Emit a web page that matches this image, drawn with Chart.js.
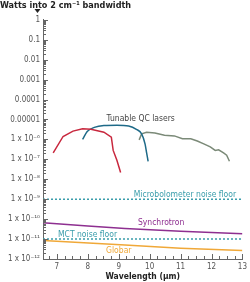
<!DOCTYPE html>
<html><head><meta charset="utf-8">
<script src="https://cdn.jsdelivr.net/npm/chart.js@4"></script>
<style>html,body{margin:0;padding:0;background:#fff;}#wrap{width:250px;height:282px;}</style>
</head><body><div id="wrap"><canvas id="c" width="250" height="282"></canvas></div>
<script>
// ---- data ----
const qclRedX = [6.88, 7.20, 7.52, 7.83, 8.10, 8.52, 8.76, 8.82, 8.94, 9.06];
const qclRedY = [2.1e-7, 1.4e-6, 2.6e-6, 3.4e-6, 3.2e-6, 2.3e-6, 1.3e-6, 2.8e-7, 8.9e-8, 2.2e-8];
const qclBlueX = [7.83, 7.98, 8.21, 8.52, 8.94, 9.32, 9.57, 9.74, 9.85, 9.90, 9.95];
const qclBlueY = [1e-6, 2.5e-6, 4e-6, 5e-6, 5.2e-6, 4.7e-6, 3.2e-6, 1.9e-6, 6e-7, 2.2e-7, 8e-8];
const qclGrayX = [9.66, 9.74, 9.90, 10.17, 10.48, 10.80, 11.06, 11.33, 11.54, 11.75, 11.96, 12.12, 12.23, 12.39, 12.49, 12.58];
const qclGrayY = [9.5e-7, 1.9e-6, 2.3e-6, 2.1e-6, 1.6e-6, 1.5e-6, 1.07e-6, 1.07e-6, 8.3e-7, 6e-7, 4.2e-7, 2.8e-7, 3e-7, 2.1e-7, 1.6e-7, 8e-8];
const synchrotronX = [6.55, 8, 9.2, 11, 13];
const synchrotronY = [6.6e-11, 4.5e-11, 3.4e-11, 2.5e-11, 1.86e-11];
const globarX = [6.55, 9.2, 11, 13];
const globarY = [8.5e-12, 5e-12, 3.5e-12, 2.7e-12];
const floorX = [6.55, 13];
const microbolometerY = [1e-9, 1e-9];
const mctY = [1e-11, 1e-11];
const xTicks = [7, 8, 9, 10, 11, 12, 13];
const yTickValues = [1, 0.1, 0.01, 0.001, 0.0001, 0.00001, 1e-6, 1e-7, 1e-8, 1e-9, 1e-10, 1e-11, 1e-12];
const yTickLabels = ['1', '0.1', '0.01', '0.001', '0.0001', '0.00001', '1 x 10\u207B\u2076', '1 x 10\u207B\u2077', '1 x 10\u207B\u2078', '1 x 10\u207B\u2079', '1 x 10\u207B\u00B9\u2070', '1 x 10\u207B\u00B9\u00B9', '1 x 10\u207B\u00B9\u00B2'];
const seriesLabels = [
  {text: 'Tunable QC lasers', x: 9.71, y: 1.1e-5, color: '#444'},
  {text: 'Microbolometer noise floor', x: 11.14, y: 1.7e-9, color: '#3a9dab'},
  {text: 'Synchrotron', x: 10.37, y: 6.5e-11, color: '#8e2f90'},
  {text: 'MCT noise floor', x: 7.99, y: 1.6e-11, color: '#3a9dab'},
  {text: 'Globar', x: 9.0, y: 2.5e-12, color: '#f0a838'}
];

const FONT = "'DejaVu Sans Condensed', 'DejaVu Sans', sans-serif";
const zip = (xs, ys) => xs.map((x, i) => ({x, y: ys[i]}));
const line = (xs, ys, color, extra) => Object.assign({
  data: zip(xs, ys), borderColor: color, borderWidth: 1.5, pointRadius: 0, fill: false, tension: 0
}, extra || {});

const innerTicks = {
  id: 'innerTicks',
  afterDraw(chart) {
    const ctx = chart.ctx, xs = chart.scales.x, ys = chart.scales.y, a = chart.chartArea;
    ctx.save();
    ctx.strokeStyle = '#666'; ctx.lineWidth = 1;
    ctx.beginPath();
    for (let d = -12; d <= 0; d++) {
      for (let m = 1; m <= 9; m++) {
        const v = m * Math.pow(10, d);
        if (v > 1.0000001) continue;
        const py = Math.round(ys.getPixelForValue(v)) + 0.5;
        const len = m === 1 ? 5 : 3;
        ctx.moveTo(a.left, py); ctx.lineTo(a.left + len, py);
      }
    }
    for (let v = 6.75; v <= 13.001; v += 0.25) {
      const px = Math.round(xs.getPixelForValue(v)) + 0.5;
      const isMajor = Math.abs(v - Math.round(v)) < 1e-6;
      const len = isMajor ? 5 : 3;
      ctx.moveTo(px, a.bottom); ctx.lineTo(px, a.bottom - len);
    }
    ctx.stroke();
    // arrow
    ctx.fillStyle = '#222';
    ctx.beginPath();
    ctx.moveTo(34.5, 9); ctx.lineTo(40.5, 9); ctx.lineTo(37.5, 13); ctx.closePath(); ctx.fill();
    // labels
    ctx.font = '8.5px ' + FONT;
    ctx.textAlign = 'center'; ctx.textBaseline = 'middle';
    seriesLabels.forEach(l => {
      ctx.fillStyle = l.color;
      ctx.fillText(l.text, xs.getPixelForValue(l.x), ys.getPixelForValue(l.y));
    });
    ctx.restore();
  }
};

new Chart(document.getElementById('c'), {
  type: 'line',
  data: {
    datasets: [
      line(floorX, microbolometerY, '#3a9dab', {borderDash: [2, 2]}),
      line(floorX, mctY, '#3a9dab', {borderDash: [2, 2]}),
      line(synchrotronX, synchrotronY, '#8e2f90'),
      line(globarX, globarY, '#f0a838'),
      line(qclRedX, qclRedY, '#c8283e'),
      line(qclBlueX, qclBlueY, '#1e6a88', {cubicInterpolationMode: 'monotone'}),
      line(qclGrayX, qclGrayY, '#7b8a78')
    ]
  },
  options: {
    responsive: false, animation: false,
    layout: {padding: {top: 0, right: 4, left: 0, bottom: 0}},
    plugins: {
      legend: {display: false}, tooltip: {enabled: false},
      title: {display: true, text: 'Watts into 2 cm\u207B\u00B9 bandwidth', align: 'start', color: '#222',
        font: {family: FONT, size: 9, weight: 'bold'}, padding: {top: 0, bottom: 9}}
    },
    scales: {
      x: {
        type: 'linear', min: 6.55, max: 13,
        afterBuildTicks: s => { s.ticks = xTicks.map(v => ({value: v})); },
        afterFit: s => { s.height = 23; },
        grid: {drawOnChartArea: false, drawTicks: false},
        border: {color: '#666', width: 1},
        ticks: {color: '#555', font: {family: FONT, size: 8}, padding: 3, autoSkip: false, maxRotation: 0,
          callback: v => String(v)},
        title: {display: true, text: 'Wavelength (\u00B5m)', color: '#222', font: {family: FONT, size: 8.5, weight: 'bold'}, padding: {top: 0, bottom: 0}}
      },
      y: {
        type: 'logarithmic', min: 1e-12, max: 1,
        afterBuildTicks: s => { s.ticks = yTickValues.map(v => ({value: v, major: true})); },
        afterFit: s => { s.width = 43; },
        grid: {drawOnChartArea: false, drawTicks: false},
        border: {color: '#666', width: 1},
        ticks: {color: '#555', font: {family: FONT, size: 8}, padding: 3, autoSkip: false,
          callback: (v) => { const i = yTickValues.findIndex(t => Math.abs(Math.log10(t) - Math.log10(v)) < 1e-6); return i >= 0 ? yTickLabels[i] : ''; }}
      }
    }
  },
  plugins: [innerTicks]
});
</script></body></html>
